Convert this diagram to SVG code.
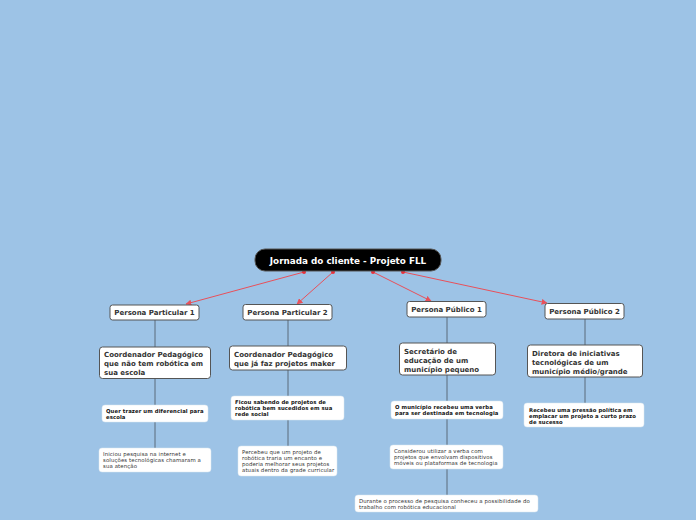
<svg xmlns="http://www.w3.org/2000/svg" width="696" height="520" viewBox="0 0 696 520">
<defs>
<marker id="ah" viewBox="0 0 10 10" refX="9" refY="5" markerWidth="6" markerHeight="6" orient="auto" markerUnits="userSpaceOnUse"><path d="M0,0 L10,5 L0,10 z" fill="#e8505a"/></marker>
<style>
text{font-family:"DejaVu Sans","Verdana",sans-serif;}
.root{fill:#000;stroke:#555;stroke-width:1}
.rt{fill:#fff;font-weight:bold;font-size:8.8px}
.p{fill:#fff;stroke:#555;stroke-width:1}
.pt{fill:#333;font-weight:bold;font-size:7px}
.l2t{fill:#333;font-weight:bold;font-size:7px}
.l3{fill:#fff;stroke:#d8e4ef;stroke-width:0.5}
.b3{fill:#111;font-weight:bold;font-size:5.3px;letter-spacing:0.1px}
.n3{fill:#333;font-size:5.4px;letter-spacing:0.1px}
.red{stroke:#e8505a;stroke-width:1;fill:none}
.gl{stroke:#5a6a7a;stroke-width:1;fill:none}
.dot{fill:#e8303a}
</style>
</defs>
<rect width="696" height="520" fill="#9dc3e6"/>
<g id="connectors">
<line class="red" x1="304" y1="272" x2="186" y2="304" marker-end="url(#ah)"/>
<line class="red" x1="333" y1="272" x2="297" y2="304" marker-end="url(#ah)"/>
<line class="red" x1="373" y1="272" x2="431" y2="301" marker-end="url(#ah)"/>
<line class="red" x1="403" y1="272" x2="547" y2="303" marker-end="url(#ah)"/>
<circle class="dot" cx="304" cy="272" r="2"/>
<circle class="dot" cx="333" cy="272" r="2"/>
<circle class="dot" cx="373" cy="272" r="2"/>
<circle class="dot" cx="403" cy="272" r="2"/>
<line class="gl" x1="155" y1="320" x2="155" y2="347"/>
<line class="gl" x1="155" y1="378" x2="155" y2="405"/>
<line class="gl" x1="155" y1="422" x2="155" y2="448"/>
<line class="gl" x1="288" y1="320" x2="288" y2="346"/>
<line class="gl" x1="288" y1="370" x2="288" y2="396"/>
<line class="gl" x1="288" y1="420" x2="288" y2="446"/>
<line class="gl" x1="447" y1="317" x2="447" y2="343"/>
<line class="gl" x1="447" y1="375" x2="447" y2="401"/>
<line class="gl" x1="447" y1="419" x2="447" y2="445"/>
<line class="gl" x1="447" y1="469" x2="447" y2="495"/>
<line class="gl" x1="585" y1="319" x2="585" y2="345"/>
<line class="gl" x1="585" y1="377" x2="585" y2="403"/>
</g>
<g id="root">
<rect class="root" x="255" y="249" width="186" height="22" rx="10"/>
<text class="rt" x="348" y="263.5" text-anchor="middle">Jornada do cliente - Projeto FLL</text>
</g>
<g id="pp1">
<rect class="p" x="110" y="305" width="89" height="15" rx="2.5"/>
<text class="pt" x="154.5" y="315" text-anchor="middle">Persona Particular 1</text>
</g>
<g id="pp2">
<rect class="p" x="243" y="304.5" width="89" height="15.5" rx="2.5"/>
<text class="pt" x="287.5" y="314.8" text-anchor="middle">Persona Particular 2</text>
</g>
<g id="pb1">
<rect class="p" x="407" y="301.5" width="79" height="15.5" rx="2.5"/>
<text class="pt" x="446.5" y="311.8" text-anchor="middle">Persona Público 1</text>
</g>
<g id="pb2">
<rect class="p" x="545" y="303.5" width="79" height="15.5" rx="2.5"/>
<text class="pt" x="584.5" y="313.8" text-anchor="middle">Persona Público 2</text>
</g>
<g id="c1">
<rect class="p" x="99.5" y="347" width="111" height="31.5" rx="3"/>
<text class="l2t" x="104" y="357">Coordenador Pedagógico</text>
<text class="l2t" x="104" y="366">que não tem robótica em</text>
<text class="l2t" x="104" y="375">sua escola</text>
</g>
<g id="c2">
<rect class="p" x="229.5" y="346" width="117" height="24" rx="3"/>
<text class="l2t" x="234" y="357">Coordenador Pedagógico</text>
<text class="l2t" x="234" y="366">que já faz projetos maker</text>
</g>
<g id="s1">
<rect class="p" x="399.5" y="343" width="96" height="32" rx="3"/>
<text class="l2t" x="404" y="354">Secretário de</text>
<text class="l2t" x="404" y="363">educação de um</text>
<text class="l2t" x="404" y="372">município pequeno</text>
</g>
<g id="d1">
<rect class="p" x="527.5" y="345" width="115" height="32" rx="3"/>
<text class="l2t" x="532" y="356">Diretora de iniciativas</text>
<text class="l2t" x="532" y="365">tecnológicas de um</text>
<text class="l2t" x="532" y="374">município médio/grande</text>
</g>
<g id="q1">
<rect class="l3" x="102" y="405" width="106" height="17" rx="3"/>
<text class="b3" x="106" y="412.5">Quer trazer um diferencial para</text>
<text class="b3" x="106" y="418.5">escola</text>
</g>
<g id="i1">
<rect class="l3" x="99" y="448" width="112" height="24" rx="3"/>
<text class="n3" x="103" y="456">Iniciou pesquisa na internet e</text>
<text class="n3" x="103" y="462">soluções tecnológicas chamaram a</text>
<text class="n3" x="103" y="468">sua atenção</text>
</g>
<g id="f1">
<rect class="l3" x="231" y="396" width="113" height="24" rx="3"/>
<text class="b3" x="235" y="404">Ficou sabendo de projetos de</text>
<text class="b3" x="235" y="410">robótica bem sucedidos em sua</text>
<text class="b3" x="235" y="416">rede social</text>
</g>
<g id="pc1">
<rect class="l3" x="238" y="446" width="99" height="30" rx="3"/>
<text class="n3" x="242" y="454">Percebeu que um projeto de</text>
<text class="n3" x="242" y="460">robótica traria um encanto e</text>
<text class="n3" x="242" y="466">poderia melhorar seus projetos</text>
<text class="n3" x="242" y="472">atuais dentro da grade curricular</text>
</g>
<g id="m1">
<rect class="l3" x="391" y="401" width="112" height="18" rx="3"/>
<text class="b3" x="395" y="409">O município recebeu uma verba</text>
<text class="b3" x="395" y="415">para ser destinada em tecnologia</text>
</g>
<g id="cv1">
<rect class="l3" x="390" y="445" width="113" height="24" rx="3"/>
<text class="n3" x="394" y="453">Considerou utilizar a verba com</text>
<text class="n3" x="394" y="459">projetos que envolvam dispositivos</text>
<text class="n3" x="394" y="465">móveis ou plataformas de tecnologia</text>
</g>
<g id="dp1">
<rect class="l3" x="355" y="495" width="183" height="17" rx="3"/>
<text class="n3" x="359" y="502.5">Durante o processo de pesquisa conheceu a possibilidade do</text>
<text class="n3" x="359" y="508.5">trabalho com robótica educacional</text>
</g>
<g id="r1">
<rect class="l3" x="524" y="403" width="120" height="24" rx="3"/>
<text class="b3" x="529" y="411.5">Recebeu uma pressão política em</text>
<text class="b3" x="529" y="417.5">emplacar um projeto a curto prazo</text>
<text class="b3" x="529" y="423.5">de sucesso</text>
</g>
</svg>
